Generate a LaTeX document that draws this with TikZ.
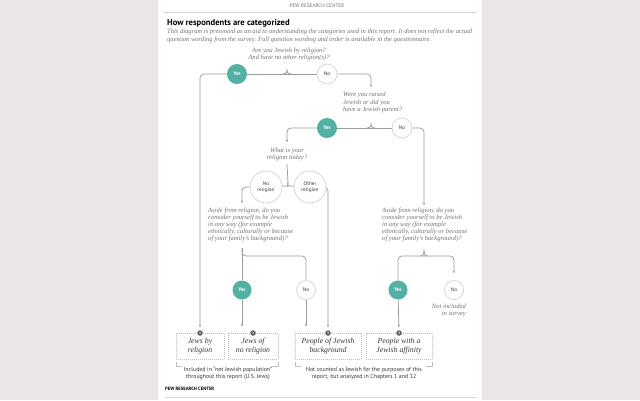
\documentclass[tikz,border=0pt]{standalone}
\usepackage{fontspec}
\setmainfont{Liberation Serif}
\newfontfamily\pts{PT Sans}
\usetikzlibrary{arrows.meta,backgrounds}
\pgfdeclarelayer{back}
\pgfsetlayers{back,background,main}
\definecolor{bgc}{RGB}{234,229,231}
\definecolor{tealc}{RGB}{82,176,164}
\definecolor{linec}{RGB}{155,155,155}
\definecolor{qc}{RGB}{115,115,115}
\definecolor{ringc}{RGB}{205,205,205}
\definecolor{boxc}{RGB}{190,190,190}
\definecolor{numc}{RGB}{95,95,95}
\definecolor{darkc}{RGB}{55,55,55}
\definecolor{rulec}{RGB}{215,215,215}
\tikzset{
 conn/.style={draw=linec, line width=0.75pt, rounded corners=4pt},
 arr/.style={-{Stealth[length=2.4pt,width=2.4pt]}},
 qtext/.style={font=\itshape\fontsize{6.6}{7.5}\selectfont, text=qc, inner sep=0pt},
 yesc/.style={circle, fill=tealc, text=white, font=\pts\bfseries\fontsize{5.2}{5}\selectfont, minimum size=20pt, inner sep=0pt},
 noc/.style={circle, draw=ringc, line width=0.6pt, fill=white, text=darkc, font=\pts\fontsize{5.2}{5}\selectfont, minimum size=20pt, inner sep=0pt},
 bigc/.style={noc, minimum size=32pt, align=center, font=\pts\fontsize{5.2}{6}\selectfont},
 catbox/.style={draw=boxc, dash pattern=on 1pt off 1pt, line width=0.5pt, align=center, font=\itshape\fontsize{7.8}{9}\selectfont, text=darkc, inner sep=0pt},
 numcirc/.style={circle, fill=numc, text=white, font=\pts\bfseries\fontsize{3.5}{3.5}\selectfont, minimum size=5.5pt, inner sep=0pt},
 note/.style={font=\pts\fontsize{5.9}{7.2}\selectfont, text=darkc, align=center, inner sep=0pt},
 bracketl/.style={draw=boxc, line width=0.5pt},
 pics/brc/.style={code={\draw[draw=linec, line width=0.75pt] (-4,0) .. controls (-1,0) and (0,-1) .. (0,-#1) .. controls (0,-1) and (1,0) .. (4,0);}},
}
\begin{document}
\begin{tikzpicture}[x=1pt,y=-1pt]
\useasboundingbox (0,0) rectangle (640,400);
\begin{pgfonlayer}{back}
\fill[bgc] (0,0) rectangle (640,400);
\fill[white] (158,0) rectangle (482,400);
\draw[rulec, line width=0.5pt] (163,12) -- (477,12);
\draw[rulec, line width=0.5pt] (165,397) -- (477,397);
\end{pgfonlayer}
% header texts
\node[font=\pts\fontsize{5.2}{5}\selectfont, text=qc, inner sep=0pt] (hdr) at (317,6) {PEW RESEARCH CENTER};
\node[anchor=north west, font=\pts\bfseries\fontsize{8.6}{9}\selectfont, inner sep=0pt] (title) at (167,19.3) {How respondents are categorized};
\node[anchor=north west, qtext, align=left, font=\itshape\fontsize{6.55}{8}\selectfont] (sub) at (167,28.7) {This diagram is presented as an aid to understanding the categories used in this report. It does not reflect the actual\\question wording from the survey. Full question wording and order is available in the questionnaire.};
% questions
\node[qtext, anchor=north, align=center] (q1) at (289,47.3) {Are you Jewish by religion?\\And have no other religion(s)?};
\node[qtext, anchor=north west, align=left] (q2) at (343,91.8) {Were you raised\\Jewish or did you\\have a Jewish parent?};
\node[qtext, anchor=north, align=center] (q3) at (287,147.3) {What is your\\religion today?};
\node[qtext, anchor=north west, align=left, font=\itshape\fontsize{6.6}{7}\selectfont] (q4) at (208,207.8) {Aside from religion, do you\\consider yourself to be Jewish\\in any way (for example\\ethnically, culturally or because\\of your family's background)?};
\node[qtext, anchor=north west, align=left, font=\itshape\fontsize{6.6}{7}\selectfont] (q5) at (382,207.3) {Aside from religion, do you\\consider yourself to be Jewish\\in any way (for example\\ethnically, culturally or because\\of your family's background)?};
% circles
\node[yesc] (yes1) at (237,74) {Yes};
\node[noc] (no1) at (327,74) {No};
\node[yesc] (yes2) at (327,128) {Yes};
\node[noc] (no2) at (402,128) {No};
\node[bigc] (noreg) at (266,187) {No\\religion};
\node[bigc] (othreg) at (310,187) {Other\\religion};
\node[yesc, minimum size=19pt] (yes3) at (242,290) {Yes};
\node[noc, minimum size=19pt] (no3) at (306,290) {No};
\node[yesc, minimum size=19pt] (yes4) at (398,290) {Yes};
\node[noc, minimum size=19pt] (no4) at (454,290) {No};
\node[qtext, anchor=north east, align=right] (notinc) at (466,303.3) {Not included\\in survey};
% boxes
\node[catbox, minimum width=48pt, minimum height=26pt] (box1) at (200,346) {Jews by\\religion};
\node[catbox, minimum width=50pt, minimum height=26pt] (box2) at (253,346) {Jews of\\no religion};
\node[catbox, minimum width=66pt, minimum height=26pt] (box3) at (328,346) {People of Jewish\\background};
\node[catbox, minimum width=66pt, minimum height=26pt] (box4) at (399,346) {People with a\\Jewish affinity};
\node[numcirc] (n1) at (200,333) {1};
\node[numcirc] (n2) at (253,333) {2};
\node[numcirc] (n3) at (328,333) {3};
\node[numcirc] (n4) at (399,333) {4};
% notes
\node[note] (note1) at (228,373.5) {Included in “net Jewish population”\\throughout this report (U.S. Jews)};
\node[note] (note2) at (364,373.5) {Not counted as Jewish for the purposes of this\\report, but analyzed in Chapters 1 and 12};
\node[anchor=west, font=\pts\bfseries\fontsize{4.7}{5}\selectfont, inner sep=0pt] (ftr) at (165,389) {PEW RESEARCH CENTER};
% coordinates
\coordinate (br1) at (287,74);
\coordinate (br2) at (371,128);
\coordinate (br3) at (288,186);
\coordinate (br4) at (242,248);
\coordinate (h4) at (306,256);
\coordinate (br5) at (424,256);
\coordinate (a2) at (371,87);
\coordinate (a3) at (287,142);
\coordinate (a4) at (242,203);
\coordinate (a5) at (424,205);
\begin{pgfonlayer}{background}
\pic at (br1) {brc=5};
\pic at (br2) {brc=5};
\pic at (br5) {brc=7};
\draw[conn] (br1) -- (yes1);
\draw[conn, arr, shorten >=3pt] (yes1) -| (n1);
\draw[conn] (br1) -- (no1);
\draw[conn, arr] (no1) -| (a2);
\draw[conn] (br2) -- (yes2);
\draw[conn, arr] (yes2) -| (a3);
\draw[conn] (br2) -- (no2);
\draw[conn, arr] (no2) -| (a5);
\draw[conn] ([yshift=-3pt]q3.south) -- (288,182) .. controls (288,185) and (289,186) .. (292,186) -- (othreg);
\draw[conn] (288,182) .. controls (288,185) and (287,186) .. (284,186) -- (noreg);
\draw[conn, arr] (noreg) -| (a4);
\draw[conn, arr, shorten >=3pt] (othreg) -| (n3);
\draw[conn] (br4) -- (yes3);
\draw[conn] (br4) |- (h4) -- (no3);
\draw[conn, arr, shorten >=6.5pt] (yes3) -- (yes3 |- box2.north);
\draw[conn, arr, shorten >=6.5pt] (no3) -- (no3 |- box3.north);
\draw[conn] (br5) -| (yes4);
\draw[conn, arr, shorten >=7pt] (br5) -| (no4);
\draw[conn, arr, shorten >=3pt] (yes4) -- (n4);
\end{pgfonlayer}
% brackets under boxes
\draw[bracketl] (box1.south west) ++(0,3) -- ++(0,4) -- ++(6,0);
\draw[bracketl] (box2.south east) ++(0,3) -- ++(0,4) -- ++(-6,0);
\draw[bracketl] (box3.south west) ++(0,3) -- ++(0,4) -- ++(6,0);
\draw[bracketl] (box4.south east) ++(0,3) -- ++(0,4) -- ++(-6,0);
\end{tikzpicture}
\end{document}
